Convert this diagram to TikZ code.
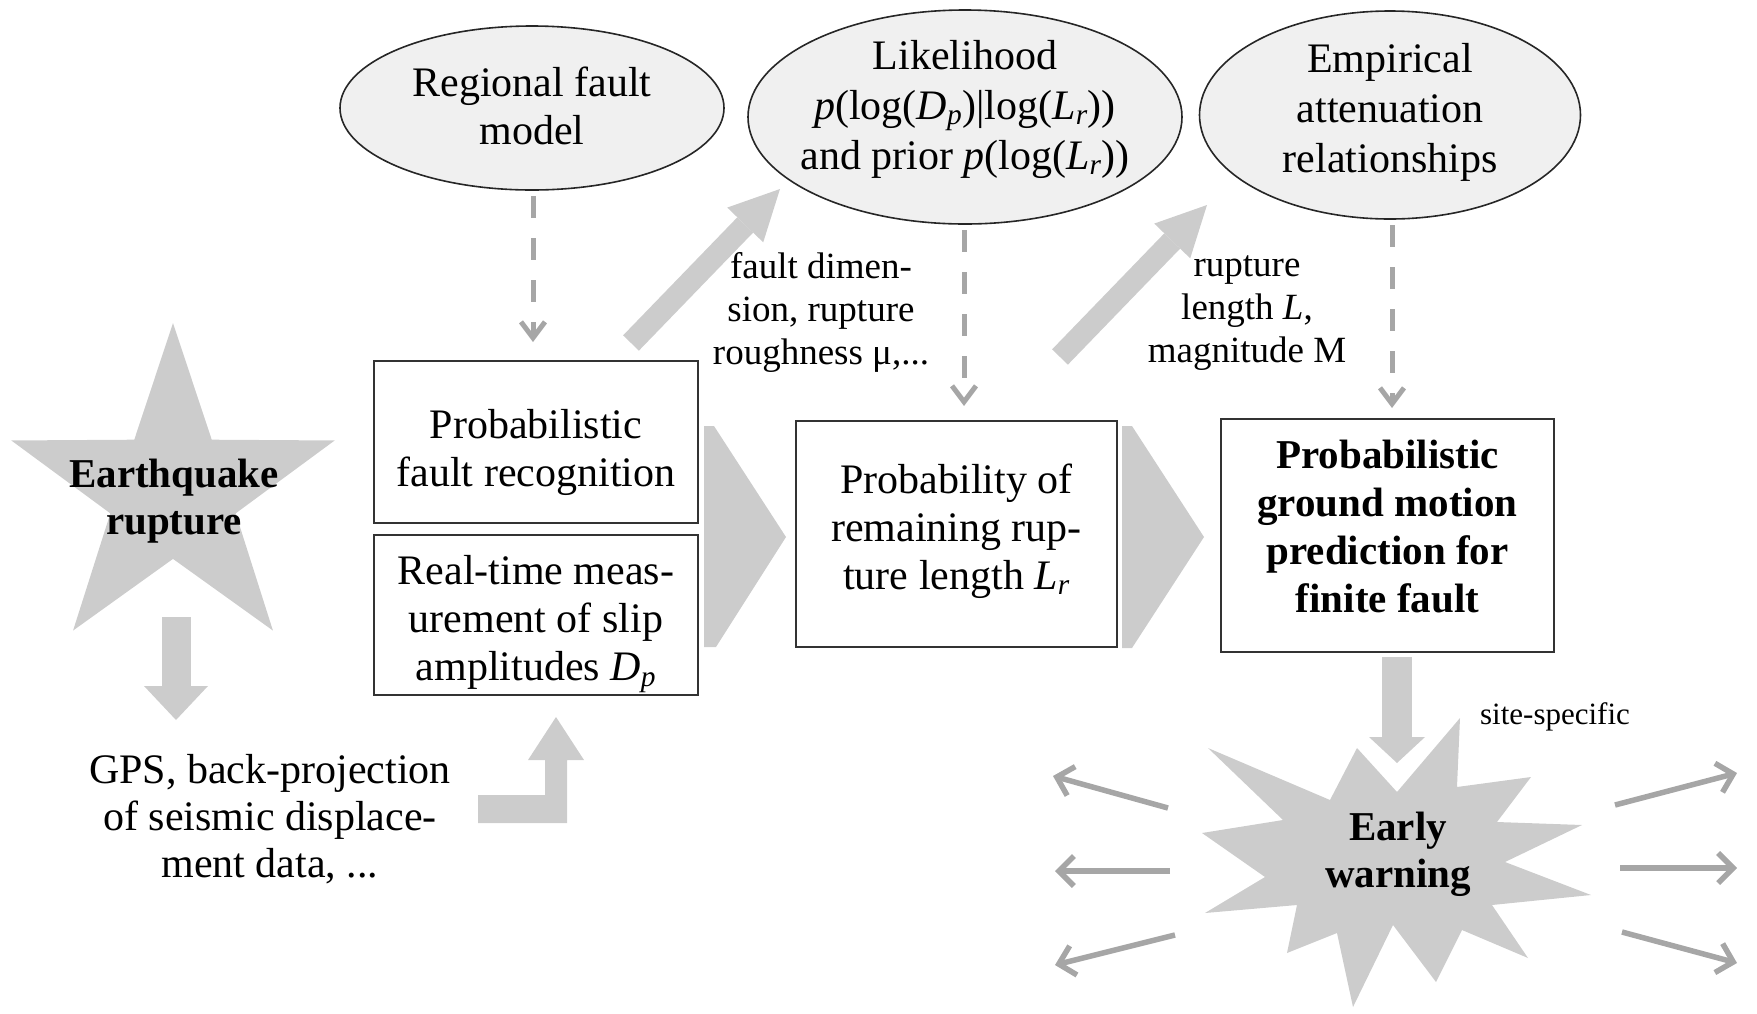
\documentclass[tikz,border=0pt]{standalone}
\usepackage{fontspec}
\setmainfont{Liberation Serif}
\usetikzlibrary{shapes.geometric,arrows.meta}
\newcommand\fsz[2]{\fontsize{#1}{#2}\selectfont}
\begin{document}
\begin{tikzpicture}[x=1pt,y=-1pt,
  box/.style={draw=black!80, line width=2.6pt, inner sep=0pt},
  ell/.style={ellipse, draw=black!85, line width=1.6pt, fill=black!6, inner sep=0pt},
  txt/.style={align=center, font=\fsz{42}{48}, inner sep=0pt},
  btxt/.style={align=center, font=\fsz{41}{47}\bfseries, inner sep=0pt},
  lbl/.style={align=center, font=\fsz{37}{43}, inner sep=0pt},
  blockfill/.style={fill=black!20},
  blockarrow/.style={draw=black!20, line width=22pt, -{Triangle[length=50pt,width=50pt,line width=0pt]}},
  dasharrow/.style={draw=black!35, line width=5pt, dash pattern=on 22pt off 20pt, -{Straight Barb[length=16pt,width=24pt]}},
  sidearrow/.style={draw=black!35, line width=5.5pt, -{Straight Barb[length=15pt,width=30pt]}},
]
\useasboundingbox (0,0) rectangle (1757,1013);

% ---- ellipses
\node[ell, minimum width=384pt, minimum height=164pt] (E1) at (532,108) {};
\node[txt] (E1t) at (532,106) {Regional fault\\model};
\node[ell, minimum width=434pt, minimum height=214pt] (E2) at (965,117) {};
\node[txt, font=\fsz{42}{50}] (E2t) at (965,109) {Likelihood\\\textit{p}(log(\textit{D\textsubscript{p}})|log(\textit{L\textsubscript{r}}))\\and prior \textit{p}(log(\textit{L\textsubscript{r}}))};
\node[ell, minimum width=381pt, minimum height=208pt] (E3) at (1390,115) {};
\node[txt, font=\fsz{42}{50}] (E3t) at (1390,112) {Empirical\\attenuation\\relationships};

% ---- boxes
\node[box, minimum width=324pt, minimum height=162pt] (A) at (536,442) {};
\node[txt] (At) at (536,452) {Probabilistic\\fault recognition};
\node[box, minimum width=324pt, minimum height=160pt] (B) at (536,615) {};
\node[txt] (Bt) at (536,624) {Real-time meas-\\urement of slip\\amplitudes \textit{D\textsubscript{p}}};
\node[box, minimum width=321pt, minimum height=226pt] (C) at (956.5,534) {};
\node[txt] (Ct) at (956.5,531) {Probability of\\remaining rup-\\ture length \textit{L\textsubscript{r}}};
\node[box, minimum width=333pt, minimum height=233pt] (D) at (1387.5,535.5) {};
\node[txt, font=\fsz{41}{48}\bfseries] (Dt) at (1387.5,527) {Probabilistic\\ground motion\\prediction for\\finite fault};

% ---- earthquake star
\node[star, star points=5, star point ratio=2.58, minimum size=340pt, inner sep=0pt, fill=black!20] (EQ) at (173,493) {};
\node[btxt] (EQt) at (174,501) {Earthquake\\rupture};

% ---- GPS text
\node[txt, font=\fsz{42}{47}] (G) at (270,819) {GPS, back-projection\\of seismic displace-\\ment data, ...};

% ---- down arrow star -> GPS
\coordinate (eqa) at (176,617);
\coordinate (eqb) at (176,720);
\draw[draw=black!20, line width=29pt, -{Triangle[length=34pt,width=64pt,line width=0pt]}] (eqa) -- (eqb);

% ---- L arrow GPS -> B
\fill[blockfill] (478,795) -- (545,795) -- (545,760) -- (528,760) -- (556,717) -- (584,760) -- (567,760) -- (567,823) -- (478,823) -- cycle;

% ---- chevrons
\fill[blockfill] (704,426) -- (714,426) -- (786,537) -- (716,647) -- (704,647) -- cycle;
\fill[blockfill] (1122,426) -- (1132,426) -- (1204,537) -- (1132,648) -- (1122,648) -- cycle;

% ---- diagonal block arrows
\coordinate (d1a) at (631,343);
\coordinate (d1b) at (780,189);
\draw[blockarrow] (d1a) -- (d1b);
\coordinate (d2a) at (1060,357);
\coordinate (d2b) at (1207,205);
\draw[blockarrow] (d2a) -- (d2b);

% ---- labels
\node[lbl] (L1) at (821,312) {fault dimen-\\sion, rupture\\roughness μ,...};
\node[lbl] (L2) at (1247,313) {rupture\\length \textit{L},\\magnitude M};

% ---- dashed arrows
\coordinate (k1a) at (533,196); \coordinate (k1b) at (533,342);
\coordinate (k2a) at (964,230); \coordinate (k2b) at (964,406);
\coordinate (k3a) at (1392,225); \coordinate (k3b) at (1392,408);
\draw[dasharrow] (k1a) -- (k1b);
\draw[dasharrow] (k2a) -- (k2b);
\draw[dasharrow] (k3a) -- (k3b);

% ---- early warning burst
\fill[black!20] (1208,748) -- (1330,800) -- (1357,748) -- (1397,792) -- (1460,718) -- (1457,787)
  -- (1531,777) -- (1497,822) -- (1582,825) -- (1505,862) -- (1591,895) -- (1492,905)
  -- (1528,958) -- (1462,930) -- (1436,982) -- (1393,925) -- (1353,1007) -- (1337,933)
  -- (1287,953) -- (1297,905) -- (1205,913) -- (1265,877) -- (1202,833) -- (1283,820) -- cycle;
\node[btxt] (EW) at (1398,854) {Early\\warning};

% ---- arrow D -> burst
\coordinate (dwa) at (1397,657);
\coordinate (dwb) at (1397,763);
\draw[draw=black!20, line width=30pt, -{Triangle[length=26pt,width=56pt,line width=0pt]}] (dwa) -- (dwb);

\node[inner sep=0pt, font=\fsz{31}{36}] (SS) at (1555,717) {site-specific};

% ---- side arrows
\coordinate (sl1a) at (1168,808); \coordinate (sl1b) at (1053,776);
\coordinate (sl2a) at (1170,871); \coordinate (sl2b) at (1055,871);
\coordinate (sl3a) at (1175,935); \coordinate (sl3b) at (1055,965);
\coordinate (sr1a) at (1615,805); \coordinate (sr1b) at (1737,773);
\coordinate (sr2a) at (1620,868); \coordinate (sr2b) at (1737,868);
\coordinate (sr3a) at (1622,932); \coordinate (sr3b) at (1737,963);
\draw[sidearrow] (sl1a) -- (sl1b);
\draw[sidearrow] (sl2a) -- (sl2b);
\draw[sidearrow] (sl3a) -- (sl3b);
\draw[sidearrow] (sr1a) -- (sr1b);
\draw[sidearrow] (sr2a) -- (sr2b);
\draw[sidearrow] (sr3a) -- (sr3b);
\end{tikzpicture}
\end{document}
